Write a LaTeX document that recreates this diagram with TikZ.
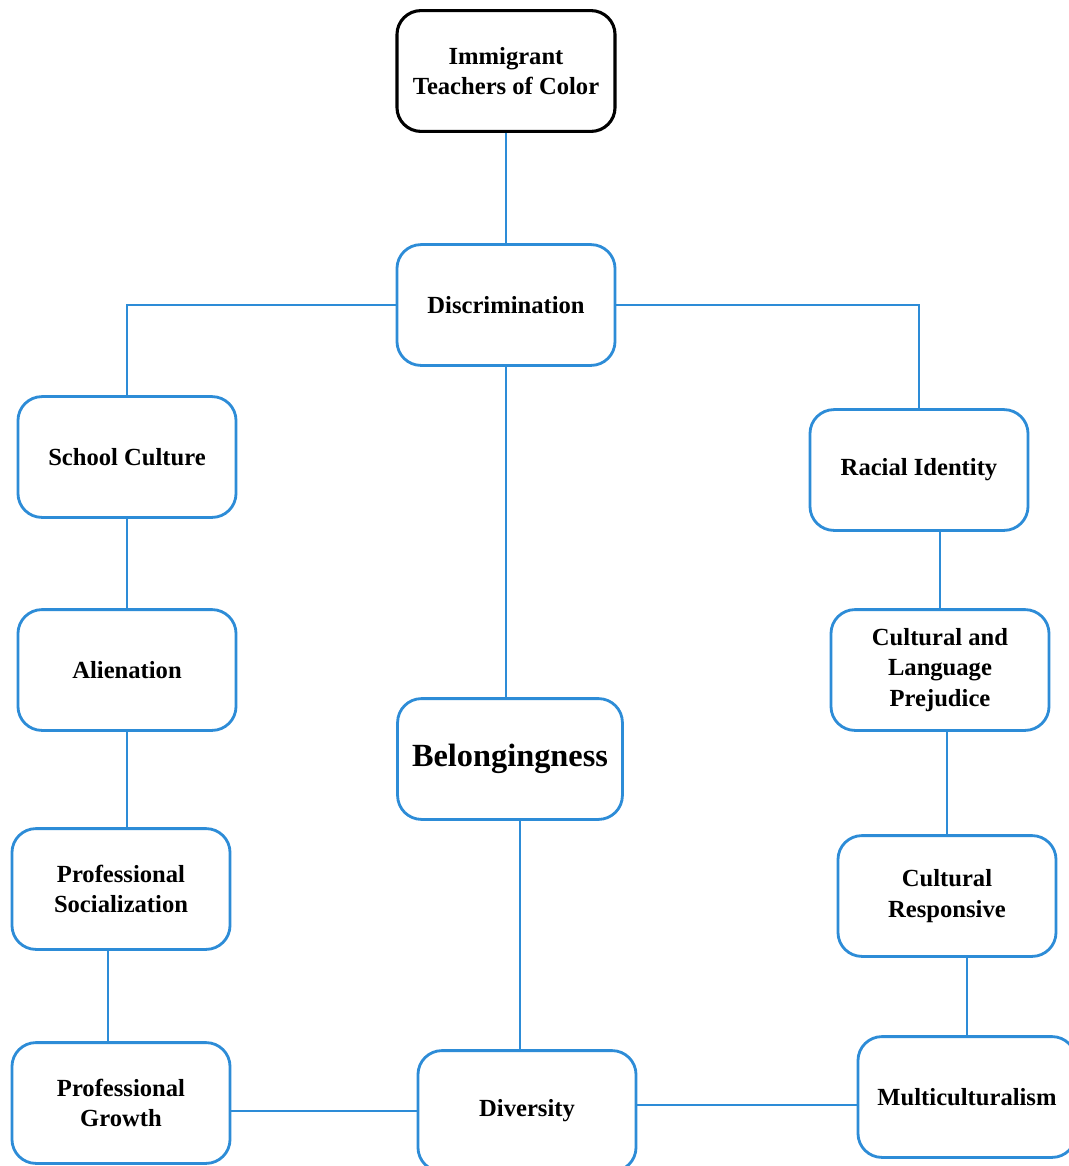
\documentclass[tikz,border=0pt]{standalone}
\usepackage{fontspec}
\setmainfont{Liberation Serif}
\usepackage{tikz}
\usetikzlibrary{positioning}
\definecolor{mapblue}{RGB}{45,140,215}

\tikzset{
    topic/.style={draw=mapblue, line width=2pt, rounded corners=0.6cm, fill=white,
        minimum width=5.45cm, minimum height=3.02cm, align=center,
        font=\fontsize{17.5}{21.5}\selectfont\bfseries},
    rootbox/.style={topic, draw=black, line width=2.2pt},
    link/.style={draw=mapblue, line width=1.8pt}
}

\begin{document}
\begin{tikzpicture}[x=0.025cm, y=-0.025cm]
    \useasboundingbox (0,0) rectangle (1068,1166);

    % Root and middle column
    \node[rootbox] (root) at (506,71) {Immigrant\\Teachers of Color};
    \node[topic] (disc) at (506,305) {Discrimination};
    \node[topic, minimum width=5.62cm, font=\fontsize{23}{27}\selectfont\bfseries] (belong) at (510,759) {Belongingness};
    \node[topic] (divers) at (527,1111) {Diversity};

    % Left column
    \node[topic] (school) at (127,457) {School Culture};
    \node[topic] (alien) at (127,670) {Alienation};
    \node[topic] (profsoc) at (121,889) {Professional\\Socialization};
    \node[topic] (growth) at (121,1103) {Professional\\Growth};

    % Right column
    \node[topic] (racial) at (919,470) {Racial Identity};
    \node[topic] (prejud) at (940,670) {Cultural and\\Language\\Prejudice};
    \node[topic] (respons) at (947,896) {Cultural\\Responsive};
    \node[topic] (multi) at (967,1097) {Multiculturalism};

    % Connectors
    \draw[link] (root) -- (disc);
    \draw[link] (disc.west) -| (school.north);
    \draw[link] (disc.east) -| (racial.north);
    \draw[link] (disc.south) -- (disc.south |- belong.north);

    \draw[link] (school) -- (alien);
    \draw[link] (alien.south) -- (alien.south |- profsoc.north);
    \draw[link] ([xshift=-0.32cm]profsoc.south) -- ([xshift=-0.32cm]growth.north);
    \draw[link] (divers.west -| growth.east) -- (divers.west);

    \draw[link] ([xshift=0.25cm]belong.south) -- ([xshift=0.25cm]belong.south |- divers.north);
    \draw[link] ([yshift=0.15cm]divers.east) -- ([yshift=0.15cm]divers.east -| multi.west);

    \draw[link] (prejud.north |- racial.south) -- (prejud.north);
    \draw[link] (respons.north |- prejud.south) -- (respons.north);
    \draw[link] (multi.north |- respons.south) -- (multi.north);
\end{tikzpicture}
\end{document}
